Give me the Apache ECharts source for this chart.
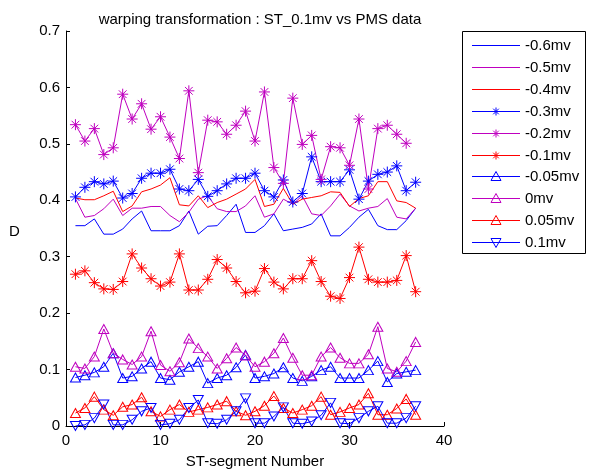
<!DOCTYPE html>
<html>
<head>
<meta charset="utf-8">
<script src="https://cdn.jsdelivr.net/npm/echarts@6/dist/echarts.min.js"></script>
<style>
  html, body { margin: 0; padding: 0; background: #fff; }
  #chart { width: 589px; height: 474px; }
</style>
</head>
<body>
<div id="chart"></div>
<script>
// ST-segment numbers (x values)
const segments = [];
for (let i = 1; i <= 37; i++) segments.push(i);

// Distance D per ST-segment for each ST level
const d_m060 = [0.355,0.355,0.367,0.340,0.340,0.349,0.367,0.381,0.346,0.346,0.346,0.355,0.381,0.340,0.354,0.355,0.373,0.393,0.343,0.343,0.355,0.376,0.346,0.349,0.352,0.358,0.376,0.337,0.337,0.352,0.370,0.384,0.355,0.348,0.348,0.364,0.386];
const d_m050 = [0.403,0.370,0.373,0.385,0.402,0.373,0.386,0.386,0.389,0.389,0.373,0.362,0.379,0.402,0.408,0.385,0.380,0.380,0.390,0.408,0.370,0.376,0.402,0.393,0.408,0.376,0.373,0.390,0.411,0.390,0.381,0.386,0.389,0.403,0.370,0.367,0.386];
const d_m040 = [0.404,0.401,0.401,0.408,0.416,0.380,0.390,0.415,0.420,0.427,0.440,0.392,0.390,0.408,0.387,0.396,0.402,0.411,0.420,0.437,0.389,0.393,0.421,0.393,0.402,0.405,0.408,0.415,0.414,0.389,0.403,0.408,0.433,0.433,0.399,0.396,0.386];
const d_m030 = [0.406,0.423,0.433,0.429,0.434,0.404,0.412,0.439,0.448,0.448,0.455,0.420,0.417,0.437,0.407,0.417,0.429,0.439,0.439,0.448,0.417,0.406,0.436,0.397,0.412,0.477,0.433,0.433,0.433,0.454,0.402,0.434,0.446,0.450,0.461,0.417,0.432];
const d_m020 = [0.534,0.505,0.527,0.481,0.493,0.588,0.544,0.571,0.526,0.548,0.512,0.474,0.594,0.449,0.542,0.539,0.517,0.533,0.558,0.505,0.592,0.458,0.430,0.581,0.499,0.515,0.437,0.495,0.493,0.462,0.544,0.420,0.527,0.533,0.517,0.501];
const d_m010 = [0.269,0.275,0.254,0.243,0.242,0.256,0.305,0.280,0.261,0.248,0.255,0.305,0.241,0.241,0.260,0.295,0.280,0.256,0.236,0.239,0.279,0.255,0.243,0.261,0.261,0.293,0.256,0.230,0.226,0.263,0.317,0.260,0.255,0.255,0.258,0.302,0.238];
const d_m005 = [0.086,0.090,0.095,0.105,0.129,0.085,0.088,0.102,0.114,0.085,0.082,0.096,0.105,0.114,0.076,0.085,0.090,0.104,0.126,0.085,0.088,0.093,0.104,0.085,0.080,0.088,0.099,0.105,0.085,0.085,0.085,0.099,0.115,0.078,0.093,0.096,0.099];
const d_p000 = [0.105,0.102,0.123,0.172,0.129,0.118,0.109,0.123,0.168,0.108,0.097,0.113,0.155,0.138,0.123,0.102,0.120,0.139,0.125,0.105,0.114,0.129,0.156,0.121,0.090,0.090,0.123,0.139,0.121,0.111,0.111,0.127,0.176,0.102,0.096,0.115,0.149];
const d_p005 = [0.023,0.032,0.052,0.029,0.019,0.034,0.038,0.051,0.026,0.017,0.029,0.038,0.025,0.029,0.033,0.038,0.044,0.026,0.019,0.026,0.036,0.053,0.032,0.023,0.029,0.036,0.052,0.020,0.025,0.032,0.038,0.058,0.020,0.020,0.031,0.048,0.020];
const d_p010 = [0.000,0.002,0.014,0.038,0.002,0.002,0.011,0.026,0.032,0.002,0.004,0.011,0.032,0.046,0.005,0.004,0.011,0.026,0.049,0.005,0.005,0.017,0.033,0.005,0.004,0.008,0.019,0.041,0.005,0.004,0.014,0.026,0.035,0.005,0.005,0.014,0.035];

const seriesNames = ['-0.6mv','-0.5mv','-0.4mv','-0.3mv','-0.2mv','-0.1mv','-0.05mv','0mv','0.05mv','0.1mv'];
const seriesData = [d_m060,d_m050,d_m040,d_m030,d_m020,d_m010,d_m005,d_p000,d_p005,d_p010];

const xTicks = [0, 10, 20, 30, 40];
const yTicks = [0, 0.1, 0.2, 0.3, 0.4, 0.5, 0.6, 0.7];

const BLUE = '#0000FF', MAGENTA = '#BF00BF', RED = '#FF0000';
const colors = [BLUE, MAGENTA, RED, BLUE, MAGENTA, RED, BLUE, MAGENTA, RED, BLUE];

// marker kinds: '' plain line, '*' asterisk, '^' triangle up, 'v' triangle down
const kinds = ['', '', '', '*', '*', '*', '^', '^', '^', 'v'];
const ASTERISK = 'path://M5 0L5 10M0 5L10 5M1.5 1.5L8.5 8.5M1.5 8.5L8.5 1.5';
const TRI_DOWN = 'path://M0 0L10 0L5 8.66Z';
const symbolOf = { '': 'none', '*': ASTERISK, '^': 'triangle', 'v': TRI_DOWN };
const sizeOf = { '': 0, '*': 11, '^': [10, 9], 'v': [10, 9] };

const FONT = 'Liberation Sans, Arial, sans-serif';
const FS = 15;

const series = seriesNames.map((name, k) => ({
  name: name,
  type: 'line',
  data: segments.slice(0, seriesData[k].length).map((x, i) => [x, seriesData[k][i]]),
  symbol: symbolOf[kinds[k]],
  symbolSize: sizeOf[kinds[k]],
  lineStyle: { color: colors[k], width: 1 },
  itemStyle: { color: 'none', borderColor: colors[k], borderWidth: 1 },
  emphasis: { disabled: true }
}));

// Legend box: one row per series (line sample, marker, label)
const LG = { x: 462, y: 31, w: 123, h: 222, row0: 45, step: 21.9, x1: 472, x2: 520, tx: 525 };
const legendGraphics = [
  { type: 'rect', shape: { x: LG.x + 0.5, y: LG.y + 0.5, width: LG.w, height: LG.h },
    style: { fill: '#fff', stroke: '#000', lineWidth: 1 }, z: 50 }
];
seriesNames.forEach((name, k) => {
  const rowY = Math.round(LG.row0 + LG.step * k);
  const cy = rowY + 0.5;
  const cx = (LG.x1 + LG.x2) / 2;
  const c = colors[k];
  // 1px sample line drawn as a filled strip
  legendGraphics.push({ type: 'rect', shape: { x: LG.x1, y: rowY, width: LG.x2 - LG.x1, height: 1 },
    style: { fill: c }, z: 51 });
  if (kinds[k] === '*') {
    const r = 4;
    [[0, -r, 0, r], [-r, 0, r, 0], [-r * 0.7, -r * 0.7, r * 0.7, r * 0.7], [-r * 0.7, r * 0.7, r * 0.7, -r * 0.7]]
      .forEach(s => legendGraphics.push({ type: 'line',
        shape: { x1: cx + s[0], y1: cy + s[1], x2: cx + s[2], y2: cy + s[3] },
        style: { stroke: c, lineWidth: 1 }, z: 52 }));
  } else if (kinds[k] === '^') {
    legendGraphics.push({ type: 'polygon',
      shape: { points: [[cx - 5, cy + 4], [cx + 5, cy + 4], [cx, cy - 5]] },
      style: { fill: 'none', stroke: c, lineWidth: 1 }, z: 52 });
  } else if (kinds[k] === 'v') {
    legendGraphics.push({ type: 'polygon',
      shape: { points: [[cx - 5, cy - 4], [cx + 5, cy - 4], [cx, cy + 5]] },
      style: { fill: 'none', stroke: c, lineWidth: 1 }, z: 52 });
  }
  legendGraphics.push({ type: 'text', x: LG.tx, y: cy,
    style: { text: name, font: FS + 'px ' + FONT, fill: '#000', verticalAlign: 'middle', align: 'left' },
    z: 52 });
});

const chart = echarts.init(document.getElementById('chart'), null, { renderer: 'canvas' });
chart.setOption({
  animation: false,
  backgroundColor: '#fff',
  textStyle: { fontFamily: FONT },
  title: {
    text: 'warping transformation : ST_0.1mv vs PMS data',
    left: 255, top: 7, textAlign: 'center',
    textStyle: { fontSize: FS, fontWeight: 'normal', color: '#000', fontFamily: FONT }
  },
  grid: { left: 66, right: 145, top: 31, bottom: 46, containLabel: false },
  xAxis: {
    type: 'value', min: xTicks[0], max: xTicks[xTicks.length - 1], interval: 10,
    name: 'ST-segment Number', nameLocation: 'middle', nameGap: 28,
    nameTextStyle: { fontSize: FS, color: '#000', fontFamily: FONT },
    axisLine: { lineStyle: { color: '#000', width: 1 } },
    axisTick: { inside: true, length: 4, lineStyle: { color: '#000' } },
    axisLabel: { fontSize: FS, color: '#000', margin: 7, fontFamily: FONT },
    splitLine: { show: false }
  },
  yAxis: {
    type: 'value', min: yTicks[0], max: yTicks[yTicks.length - 1], interval: 0.1,
    axisLine: { show: true, lineStyle: { color: '#000', width: 1 } },
    axisTick: { show: true, inside: true, length: 4, lineStyle: { color: '#000' } },
    axisLabel: { fontSize: FS, color: '#000', margin: 6, fontFamily: FONT,
      formatter: v => String(Math.round(v * 10) / 10) },
    splitLine: { show: false }
  },
  graphic: legendGraphics.concat([
    { type: 'text', left: 9, top: 224,
      style: { text: 'D', font: FS + 'px ' + FONT, fill: '#000' } }
  ]),
  series: series
});
</script>
</body>
</html>
